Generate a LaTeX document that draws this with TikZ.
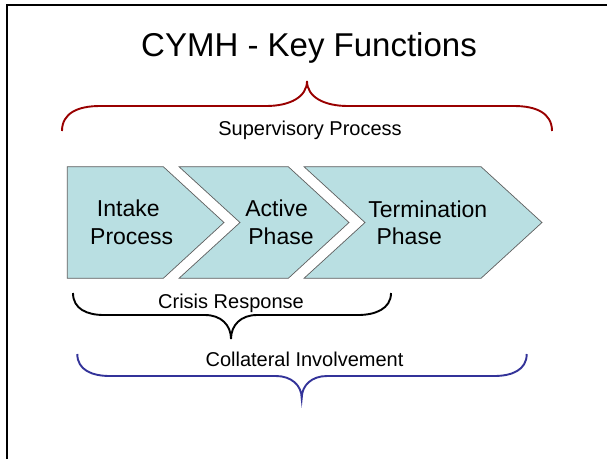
\documentclass[tikz,border=0pt]{standalone}
\usepackage{fontspec}
\setmainfont{Liberation Sans}
\definecolor{chevfill}{RGB}{185,223,226}
\definecolor{chevline}{RGB}{95,95,95}
\definecolor{bracered}{RGB}{153,0,0}
\definecolor{braceblue}{RGB}{51,51,153}
\tikzset{
  chevron/.style={fill=chevfill, draw=chevline, line width=0.7pt, line join=miter},
  bracepath/.style={line width=1.9pt, line cap=butt},
  titletext/.style={inner sep=0pt, anchor=base, font=\fontsize{33}{40}\selectfont},
  phasetext/.style={inner sep=0pt, anchor=base, font=\fontsize{23}{28}\selectfont},
  bracetext/.style={inner sep=0pt, anchor=base, font=\fontsize{20}{24}\selectfont},
}
\begin{document}
\begin{tikzpicture}[x=1pt, y=-1pt]
  \useasboundingbox (0,0) rectangle (607,459);
  \fill[white] (0,0) rectangle (607,459);

  % slide frame (top and left edges)
  \draw[line width=2pt] (7,459) -- (7,5) -- (607,5);

  % title
  \node[titletext] (title) at (309,56.7) {CYMH - Key Functions};

  % supervisory brace
  \draw[bracepath, draw=bracered]
    (62,131) .. controls (62,113) and (78,106) .. (100,106)
    -- (266,106) .. controls (290,106) and (307,97) .. (307,81)
    .. controls (307,97) and (324,106) .. (348,106)
    -- (514,106) .. controls (536,106) and (552,113) .. (552,131);
  \node[bracetext] (superv) at (310,135) {Supervisory Process};

  % process chevrons
  \draw[chevron] (67.3,166.7) -- (163.3,166.7) -- (224,222.5) -- (163.3,278.3)
    -- (67.3,278.3) -- cycle;
  \draw[chevron] (179,166.7) -- (288.3,166.7) -- (349,222.5) -- (288.3,278.3)
    -- (179,278.3) -- (240,222.5) -- cycle;
  \draw[chevron] (304,166.7) -- (481,166.7) -- (542,222.5) -- (481,278.3)
    -- (304,278.3) -- (365,222.5) -- cycle;

  \node[phasetext] (intakeA) at (128.3,216.7) {Intake};
  \node[phasetext] (intakeB) at (131.7,244.4) {Process};
  \node[phasetext] (activeA) at (276.7,216.7) {Active};
  \node[phasetext] (activeB) at (281,244.4) {Phase};
  \node[phasetext] (termA) at (427.8,217) {Termination};
  \node[phasetext] (termB) at (409.2,244.6) {Phase};

  % crisis response brace
  \draw[bracepath, draw=black]
    (73,293) .. controls (73,309) and (87,315) .. (104,315)
    -- (205,315) .. controls (221,315) and (231,325) .. (231,339)
    .. controls (231,325) and (241,315) .. (257,315)
    -- (358,315) .. controls (375,315) and (391,309) .. (391,293);
  \node[bracetext] (crisis) at (231,308.3) {Crisis Response};

  % collateral involvement brace
  \draw[bracepath, draw=braceblue]
    (77.3,354) .. controls (77.3,370) and (92,376) .. (110,376)
    -- (276,376) .. controls (291,376) and (301.7,385) .. (301.7,398.3)
    .. controls (301.7,385) and (312,376) .. (327,376)
    -- (494,376) .. controls (512,376) and (526.7,370) .. (526.7,354);
  \node[bracetext] (collat) at (304.5,366) {Collateral Involvement};
\end{tikzpicture}
\end{document}
